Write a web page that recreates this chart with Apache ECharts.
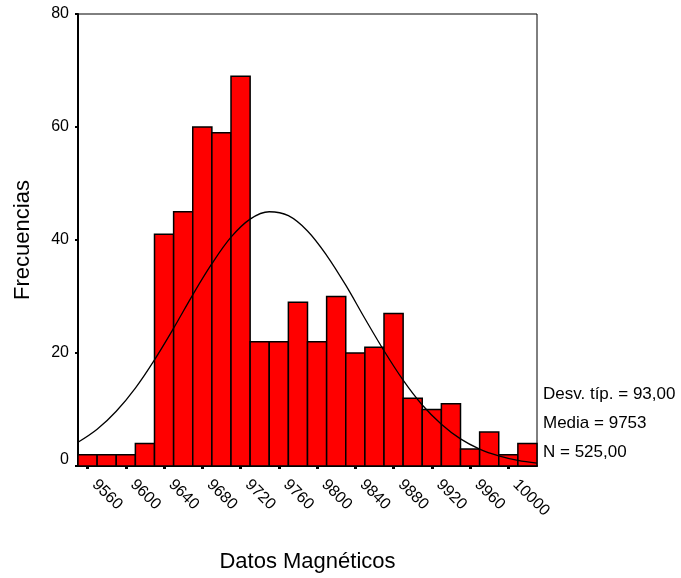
<!DOCTYPE html>
<html>
<head>
<meta charset="utf-8">
<script src="https://cdn.jsdelivr.net/npm/echarts@6/dist/echarts.min.js"></script>
<style>
  html, body { margin: 0; padding: 0; background: #fff; }
  #chart { width: 681px; height: 578px; }
</style>
</head>
<body>
<div id="chart"></div>
<script>
// Histogram of magnetic readings (bin centres, 20-unit bins)
var binCenters = [9560, 9580, 9600, 9620, 9640, 9660, 9680, 9700, 9720, 9740, 9760, 9780,
                  9800, 9820, 9840, 9860, 9880, 9900, 9920, 9940, 9960, 9980, 10000, 10020];
var frequencies = [2, 2, 2, 4, 41, 45, 60, 59, 69, 22, 22, 29,
                   22, 30, 20, 21, 27, 12, 10, 11, 3, 6, 2, 4];
var binWidth = 20;

// Fitted normal curve, sampled along the axis
var curveX = [9550, 9570, 9590, 9610, 9630, 9650, 9670, 9690, 9710, 9730, 9750, 9770, 9790,
              9810, 9830, 9850, 9870, 9890, 9910, 9930, 9950, 9970, 9990, 10010, 10030];
var curveY = [4.2, 6.5, 9.7, 13.8, 18.8, 24.4, 30.3, 35.8, 40.5, 43.7, 45.0, 44.3, 41.6,
              37.3, 32.0, 26.1, 20.4, 15.2, 10.8, 7.4, 4.8, 3.0, 1.8, 1.0, 0.5];

var xTicks = [9560, 9600, 9640, 9680, 9720, 9760, 9800, 9840, 9880, 9920, 9960, 10000];

var statLines = ['Desv. típ. = 93,00', 'Media = 9753', 'N = 525,00'];

var FONT = '"Liberation Sans", Arial, sans-serif';

var chart = echarts.init(document.getElementById('chart'), null, { renderer: 'canvas' });

var histData = binCenters.map(function (c, i) { return [c, frequencies[i]]; });
var curveData = curveX.map(function (x, i) { return [x, curveY[i]]; });

chart.setOption({
  animation: false,
  backgroundColor: '#ffffff',
  grid: {
    left: 78, right: 144, top: 14, bottom: 112,
    show: true, borderColor: '#000', borderWidth: 1, backgroundColor: 'transparent'
  },
  xAxis: {
    type: 'value',
    min: 9550, max: 10030,
    name: 'Datos Magnéticos',
    nameLocation: 'middle',
    nameGap: 85,
    nameTextStyle: { fontFamily: FONT, fontSize: 22, color: '#000' },
    splitLine: { show: false },
    axisLine: { show: true, onZero: false, lineStyle: { color: '#000', width: 2 } },
    axisTick: { show: true, customValues: xTicks, length: 3, lineStyle: { color: '#000', width: 3 } },
    axisLabel: {
      customValues: xTicks,
      formatter: function (v) { return String(v); },
      rotate: -45,
      margin: 9,
      padding: [0, 0, 0, 10],
      fontFamily: FONT, fontSize: 16, color: '#000'
    }
  },
  yAxis: {
    type: 'value',
    min: 0, max: 80, interval: 20,
    name: 'Frecuencias',
    nameLocation: 'middle',
    nameGap: 44,
    nameRotate: 90,
    nameTextStyle: { fontFamily: FONT, fontSize: 22, color: '#000' },
    splitLine: { show: false },
    axisLine: { show: true, lineStyle: { color: '#000', width: 2 } },
    axisTick: { show: true, length: 3, lineStyle: { color: '#000', width: 2 } },
    axisLabel: {
      margin: 9,
      formatter: function (v) { return v === 0 ? '{low|0}' : String(v); },
      rich: { low: { fontFamily: FONT, fontSize: 16, color: '#000', padding: [0, 0, 12, 0] } },
      fontFamily: FONT, fontSize: 16, color: '#000'
    }
  },
  series: [
    {
      type: 'custom',
      data: histData,
      encode: { x: 0, y: 1 },
      renderItem: function (params, api) {
        var c = api.value(0), v = api.value(1);
        var topLeft = api.coord([c - binWidth / 2, v]);
        var bottomRight = api.coord([c + binWidth / 2, 0]);
        return {
          type: 'rect',
          shape: {
            x: topLeft[0], y: topLeft[1],
            width: bottomRight[0] - topLeft[0],
            height: bottomRight[1] - topLeft[1]
          },
          style: { fill: '#ff0000', stroke: '#000', lineWidth: 1.5 }
        };
      },
      z: 2
    },
    {
      type: 'line',
      data: curveData,
      smooth: 0.35,
      symbol: 'none',
      lineStyle: { color: '#000', width: 1.3 },
      z: 3
    }
  ],
  graphic: statLines.map(function (t, i) {
    return {
      type: 'text',
      left: 543,
      top: 386 + i * 29,
      style: { text: t, fontFamily: FONT, fontSize: 17, fill: '#000' }
    };
  })
});
</script>
</body>
</html>
